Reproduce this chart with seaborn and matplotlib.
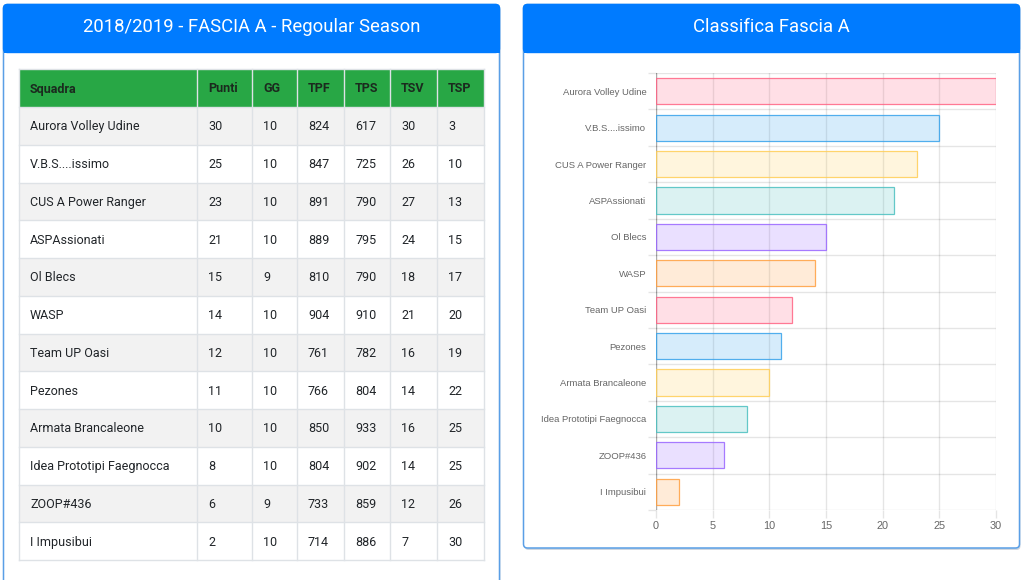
import matplotlib
matplotlib.use("Agg")
import matplotlib.pyplot as plt
from matplotlib.patches import Rectangle, FancyBboxPatch
import seaborn as sns
import pandas as pd

# ---------------- data ----------------
squadre = ["Aurora Volley Udine", "V.B.S....issimo", "CUS A Power Ranger", "ASPAssionati",
           "Ol Blecs", "WASP", "Team UP Oasi", "Pezones", "Armata Brancaleone",
           "Idea Prototipi Faegnocca", "ZOOP#436", "I Impusibui"]
punti = [30, 25, 23, 21, 15, 14, 12, 11, 10, 8, 6, 2]
gg = [10, 10, 10, 10, 9, 10, 10, 10, 10, 10, 9, 10]
tpf = [824, 847, 891, 889, 810, 904, 761, 766, 850, 804, 733, 714]
tps = [617, 725, 790, 795, 790, 910, 782, 804, 933, 902, 859, 886]
tsv = [30, 26, 27, 24, 18, 21, 16, 14, 16, 14, 12, 7]
tsp = [3, 10, 13, 15, 17, 20, 19, 22, 25, 25, 26, 30]
colonne = ["Squadra", "Punti", "GG", "TPF", "TPS", "TSV", "TSP"]
titolo_tabella = "2018/2019 - FASCIA A - Regoular Season"
titolo_grafico = "Classifica Fascia A"
x_ticks = [0, 5, 10, 15, 20, 25, 30]

base_rgb = [(255, 99, 132), (54, 162, 235), (255, 206, 86),
            (75, 192, 192), (153, 102, 255), (255, 159, 64)]

# ---------------- figure ----------------
W, H = 1024, 580
fig = plt.figure(figsize=(W / 100, H / 100), dpi=100)
fig.patch.set_facecolor("white")

bg = fig.add_axes([0, 0, 1, 1])
bg.set_xlim(0, W)
bg.set_ylim(H, 0)
bg.axis("off")

BLUE = "#007bff"
TXT = "#212529"
BORDER = "#dee2e6"


def card(x0, y0, x1, y1, title):
    # shadow
    bg.add_patch(FancyBboxPatch((x0 + 1, y0 + 2), x1 - x0, y1 - y0,
                                boxstyle="round,pad=0,rounding_size=4",
                                fc="#d0d7e0", ec="none", zorder=0))
    bg.add_patch(FancyBboxPatch((x0, y0), x1 - x0, y1 - y0,
                                boxstyle="round,pad=0,rounding_size=4",
                                fc="white", ec="#5a9fe6", lw=1.1, zorder=1))
    bg.add_patch(FancyBboxPatch((x0, y0), x1 - x0, 48,
                                boxstyle="round,pad=0,rounding_size=4",
                                fc=BLUE, ec=BLUE, lw=1, zorder=2))
    bg.add_patch(Rectangle((x0, y0 + 40), x1 - x0, 8, fc=BLUE, ec="none", zorder=2))
    bg.text((x0 + x1) / 2, y0 + 22, title, color="white", fontsize=13.3,
            family="Roboto", ha="center", va="center", zorder=3)


card(3.5, 4.5, 499.5, 600, titolo_tabella)
card(523.5, 4.5, 1019.5, 548, titolo_grafico)

# ---------------- table ----------------
col_edges = [19, 197, 252, 297, 344, 390, 437, 484]
head_top, head_bot = 69, 107
row_h = (560 - 107) / len(squadre)

bg.add_patch(Rectangle((col_edges[0], head_top), col_edges[-1] - col_edges[0],
                       head_bot - head_top, fc="#28a745", ec="none", zorder=3))
for j, name in enumerate(colonne):
    bg.text(col_edges[j] + 11, (head_top + head_bot) / 2 + 1, name, color="#1b2a1e",
            fontsize=9.0, fontweight="bold", family="Roboto", ha="left", va="center",
            zorder=5)

righe = list(zip(squadre, punti, gg, tpf, tps, tsv, tsp))
for i, riga in enumerate(righe):
    y0 = head_bot + i * row_h
    if i % 2 == 0:
        bg.add_patch(Rectangle((col_edges[0], y0), col_edges[-1] - col_edges[0], row_h,
                               fc="#f2f2f2", ec="none", zorder=3))
    for j, val in enumerate(riga):
        bg.text(col_edges[j] + 11, y0 + row_h / 2 + 1, str(val), color=TXT,
                fontsize=9.0, family="Roboto", ha="left", va="center", zorder=5)

table_bot = head_bot + len(squadre) * row_h
for xe in col_edges:
    bg.plot([xe, xe], [head_top, table_bot], color=BORDER, lw=1, zorder=4)
bg.plot([col_edges[0], col_edges[-1]], [head_top, head_top], color=BORDER, lw=1, zorder=4)
for i in range(len(squadre) + 1):
    yy = head_bot + i * row_h
    bg.plot([col_edges[0], col_edges[-1]], [yy, yy], color=BORDER, lw=1, zorder=4)

# ---------------- bar chart ----------------
ax_l, ax_r, ax_t, ax_b = 656, 996, 73, 510
ax = fig.add_axes([ax_l / W, 1 - ax_b / H, (ax_r - ax_l) / W, (ax_b - ax_t) / H])
ax.set_facecolor("none")

df = pd.DataFrame({"Squadra": squadre, "Punti": punti})
fills = [(r / 255, g / 255, b / 255, 0.2) for (r, g, b) in
         [base_rgb[i % 6] for i in range(len(squadre))]]
edges = [(r / 255, g / 255, b / 255, 0.85) for (r, g, b) in
         [base_rgb[i % 6] for i in range(len(squadre))]]
sns.barplot(data=df, x="Punti", y="Squadra", hue="Squadra", palette=fills,
            legend=False, width=0.72, orient="h", ax=ax, zorder=3, saturation=1)
for cont, fc, ec in zip(ax.containers, fills, edges):
    for p in cont.patches:
        p.set_facecolor(fc)
        p.set_edgecolor(ec)
        p.set_linewidth(0.9)

ax.set_xlim(0, 30)
ax.set_ylim(len(squadre) - 0.5, -0.5)
ax.set_xticks(x_ticks)
ax.set_xticklabels([str(t) for t in x_ticks])
ax.set_yticks(range(len(squadre)))
ax.set_yticklabels(squadre)
ax.set_yticks([k - 0.5 for k in range(len(squadre) + 1)], minor=True)
ax.set_xlabel("")
ax.set_ylabel("")

grid_c = (0, 0, 0, 0.1)
for t in x_ticks:
    ax.axvline(t, color=grid_c, lw=1, zorder=1)
for k in range(len(squadre) + 1):
    ax.axhline(k - 0.5, color=grid_c, lw=1, zorder=1)
ax.axvline(0, color=(0, 0, 0, 0.25), lw=1, zorder=2)

for s in ax.spines.values():
    s.set_visible(False)

ax.tick_params(axis="x", which="major", length=6, width=1, color=grid_c,
               labelsize=7.8, labelcolor="#666666", pad=2)
ax.tick_params(axis="y", which="major", length=0, labelsize=6.8,
               labelcolor="#666666", pad=7)
ax.tick_params(axis="y", which="minor", length=6, width=1, color=grid_c)
for lab in ax.get_xticklabels() + ax.get_yticklabels():
    lab.set_family("Liberation Sans")

fig.savefig("out.png", dpi=100)
